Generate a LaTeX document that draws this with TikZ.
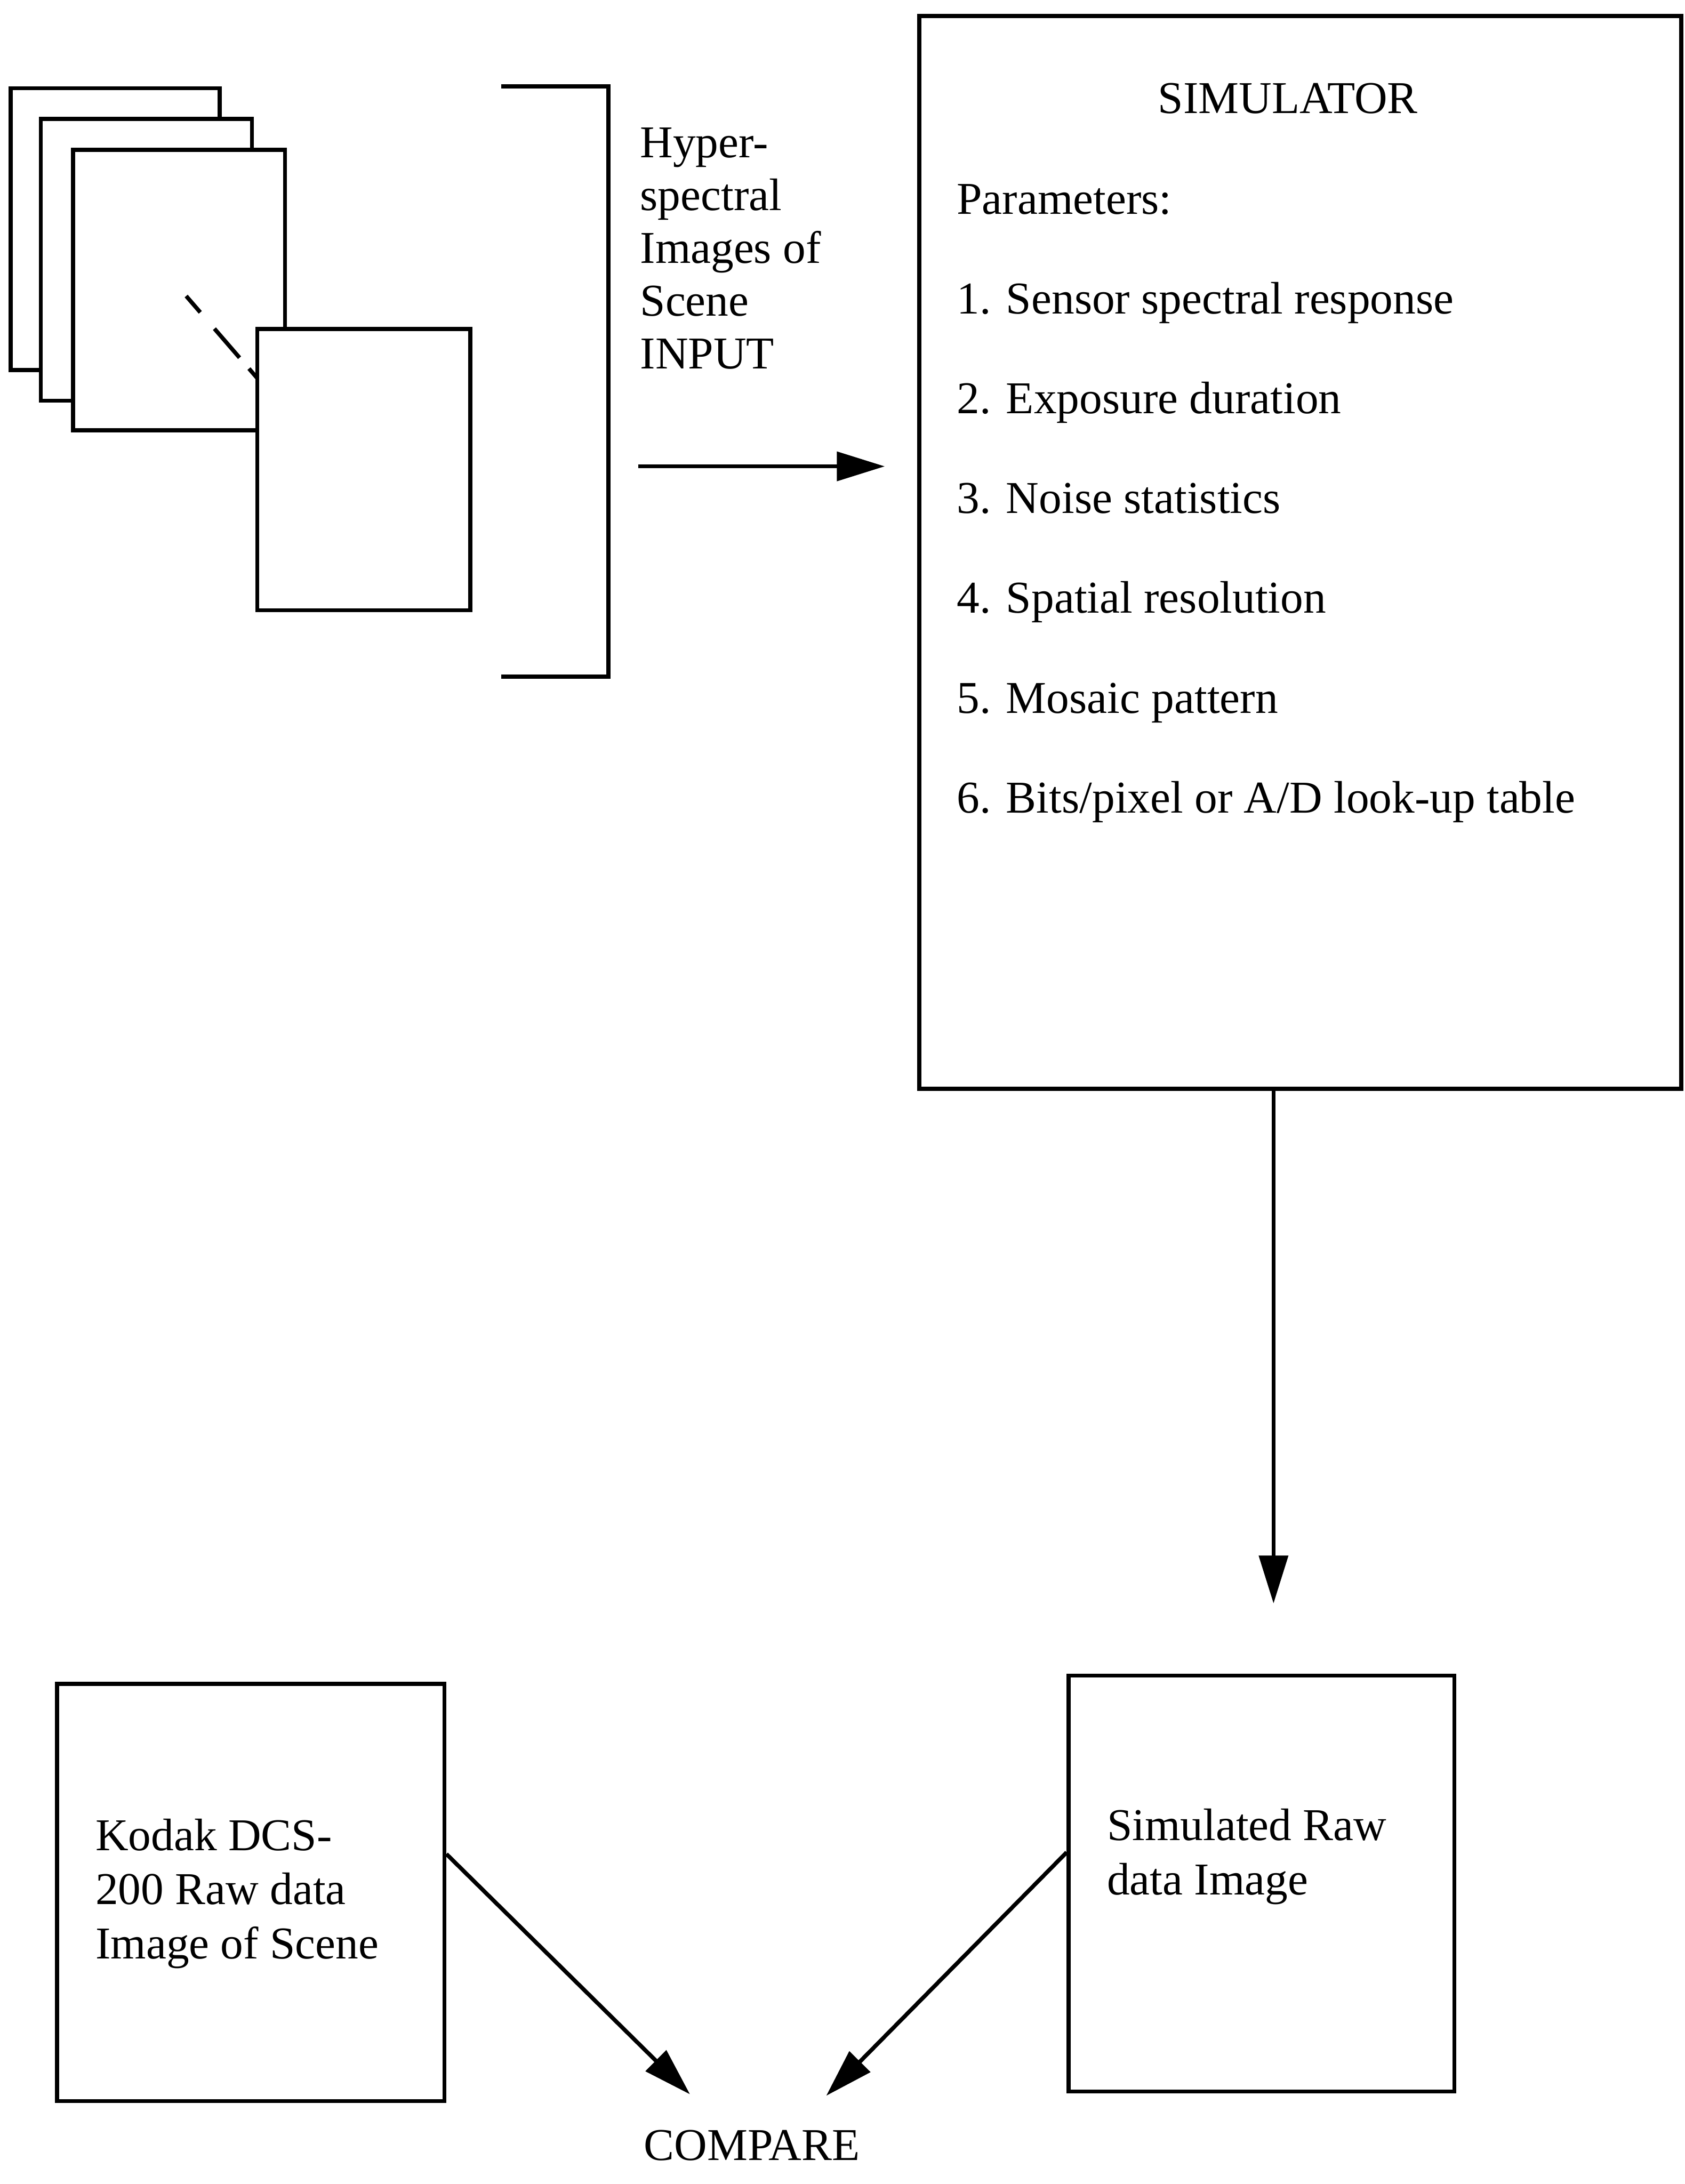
\documentclass[tikz,border=0pt]{standalone}
\usepackage{fontspec}
\setmainfont{Liberation Serif}
\usepackage{tikz}
\usetikzlibrary{arrows.meta,positioning}

\begin{document}
\begin{tikzpicture}[
      font=\fontsize{27}{31.3}\selectfont,
      line width=2.4pt,
      page/.style={draw,fill=white,line width=2.4pt},
      box/.style={draw,fill=white,line width=2.4pt,inner sep=0pt},
      arrow/.style={-{Triangle[length=1cm,width=0.6cm]},line width=2.4pt},
      label/.style={align=left,anchor=north west,inner sep=0pt},
      item/.style={anchor=base west,inner sep=0pt}
    ]
    \useasboundingbox (0,0) rectangle (35.11,-45.52);
    \draw[page] (0.22,-1.84) rectangle (4.58,-7.71);
    \draw[page] (0.85,-2.48) rectangle (5.25,-8.35);
    \draw[page] (1.52,-3.12) rectangle (5.94,-8.97);
    \draw[line width=2.4pt,dash pattern=on 0.45cm off 0.45cm on 0.8cm off 0.3cm] (3.88,-6.17) -- (5.36,-7.88);
    \draw[page] (5.36,-6.86) rectangle (9.80,-12.72);
    \draw[line width=2.4pt] (10.45,-1.80) -| (12.68,-14.10) -- (10.45,-14.10);
    \node[label] (hsi) at (13.30,-2.62) {Hyper-\\spectral\\Images of\\Scene\\INPUT};
    \coordinate (inarrow) at (13.30,-9.72);
    \node[box,anchor=north west,minimum width=15.88cm,minimum height=22.36cm] (sim) at (19.12,-0.29) {};
    \node[anchor=base,inner sep=0pt] (simtitle) at (26.84,-2.36) {SIMULATOR};
    \node[item] (params) at (19.90,-4.46) {Parameters:};
    \node[item] (sensor) at ([yshift=-2.08cm]params.base west) {1. Sensor spectral response};
    \node[item] (exposure) at ([yshift=-2.08cm]sensor.base west) {2. Exposure duration};
    \node[item] (noise) at ([yshift=-2.08cm]exposure.base west) {3. Noise statistics};
    \node[item] (spatial) at ([yshift=-2.08cm]noise.base west) {4. Spatial resolution};
    \node[item] (mosaic) at ([yshift=-2.08cm]spatial.base west) {5. Mosaic pattern};
    \node[item] (bits) at ([yshift=-2.08cm]mosaic.base west) {6. Bits/pixel or A/D look-up table};
    \draw[arrow,shorten >=0.68cm] (inarrow) -- (inarrow -| sim.west);
    \node[box,anchor=north west,minimum width=8.07cm,minimum height=8.70cm] (kodak) at (1.15,-35.05) {};
    \node[label,font=\fontsize{27}{32}\selectfont] (kodaktext) at (1.95,-37.87) {Kodak DCS-\\200 Raw data\\Image of Scene};
    \node[box,anchor=north west,minimum width=8.04cm,minimum height=8.67cm] (simraw) at (22.23,-34.88) {};
    \node[label,font=\fontsize{27}{32}\selectfont] (simrawtext) at (23.03,-37.66) {Simulated Raw\\data Image};
    \draw[arrow,shorten >=1.46cm] ([xshift=-0.56cm]sim.south) -- ([xshift=-0.56cm]sim.south |- simraw.north);
    \node[anchor=base,inner sep=0pt] (compare) at (15.67,-45.03) {COMPARE};
    \coordinate (cmpleft) at (14.38,-43.65);
    \coordinate (cmpright) at (17.22,-43.68);
    \draw[arrow] ([yshift=0.80cm]kodak.east) -- (cmpleft);
    \draw[arrow] ([yshift=0.65cm]simraw.west) -- (cmpright);
  \end{tikzpicture}
\end{document}
